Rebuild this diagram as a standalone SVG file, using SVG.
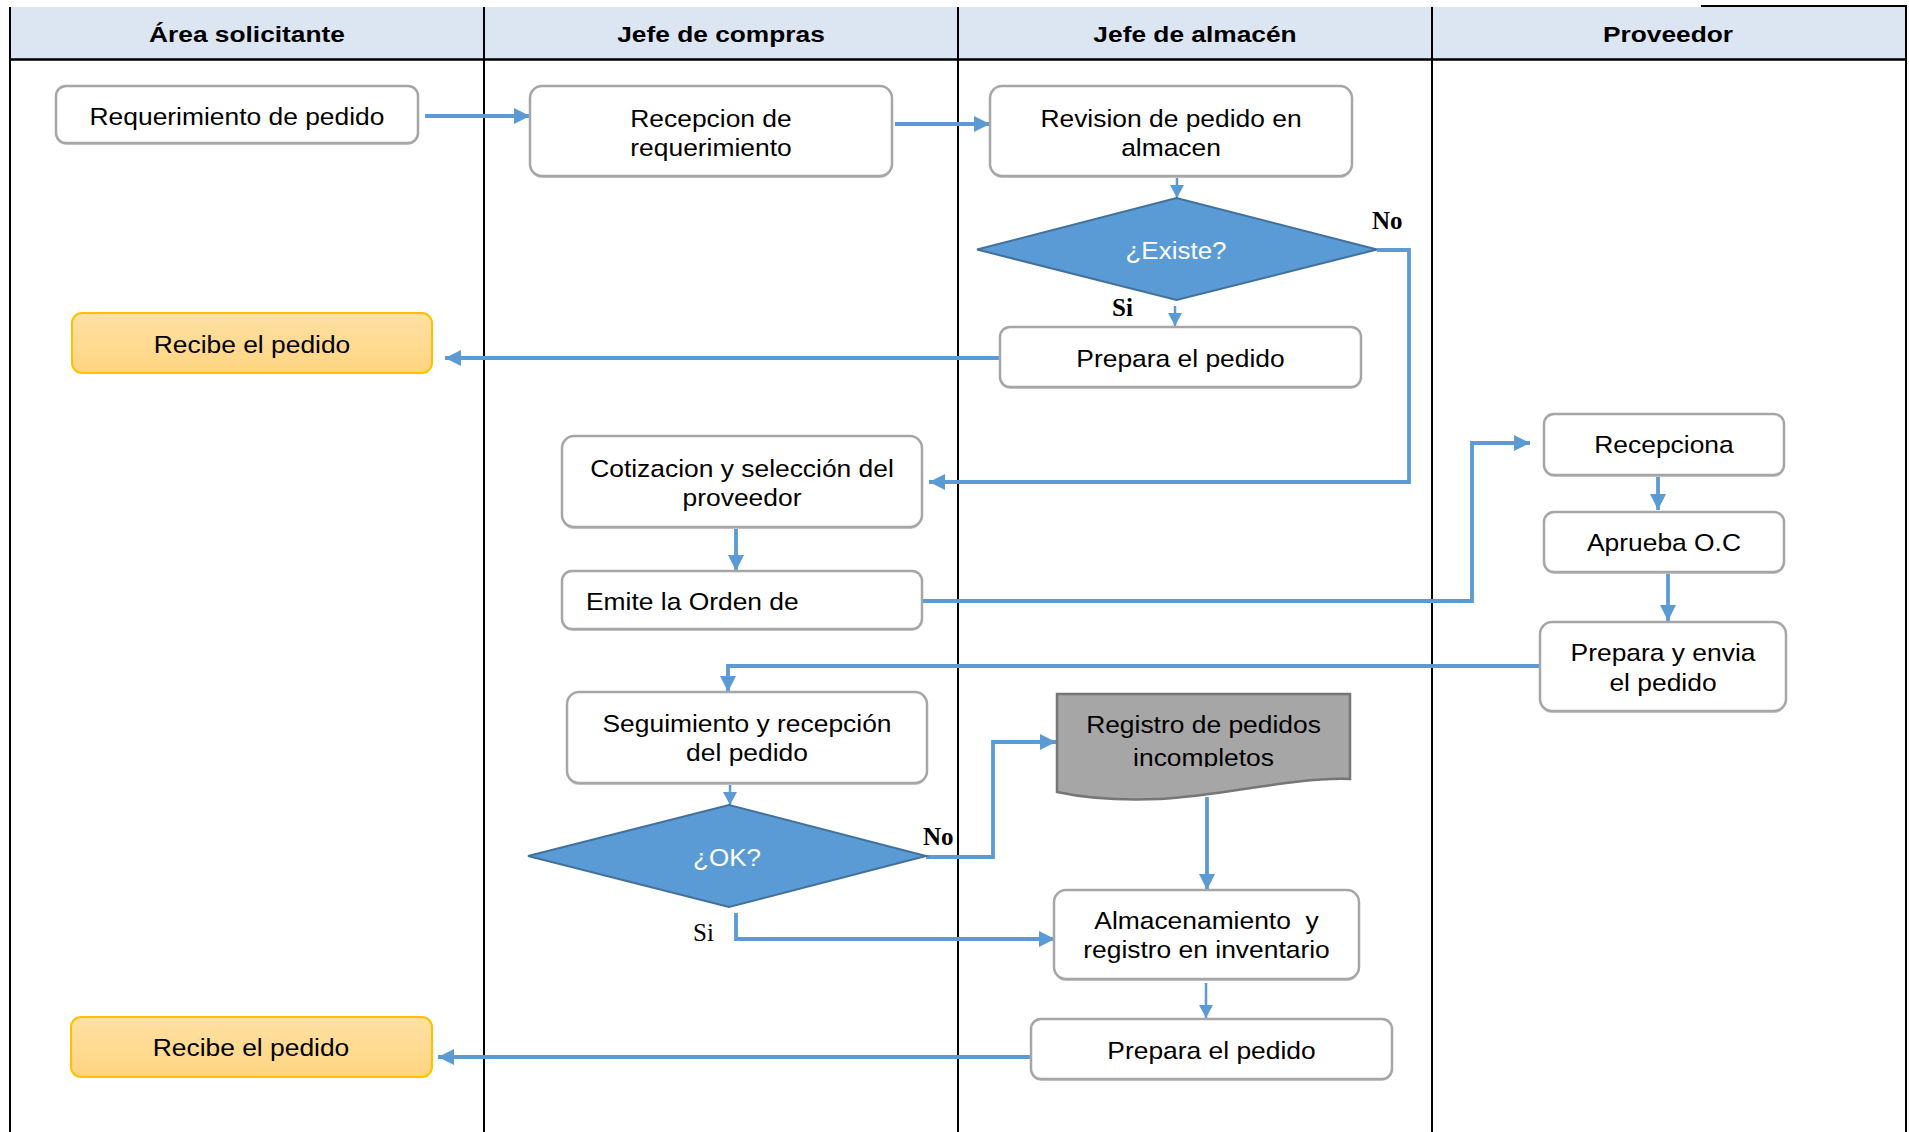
<svg xmlns="http://www.w3.org/2000/svg" width="1909" height="1132" viewBox="0 0 1909 1132">
  <defs>
    <style>
      .lane-head { fill: #DCE6F2; }
      .lane-line { stroke: #000; stroke-width: 2; fill: none; }
      .hdr { font-family: "Liberation Sans", Arial, sans-serif; font-weight: bold; font-size: 22.5px; fill: #000; text-anchor: middle; }
      .box { fill: #fff; stroke: #A6A6A6; stroke-width: 2.5; }
      .shadow { fill: #C8C8C8; }
      .recv { fill: url(#gold); stroke: #FFC000; stroke-width: 2; }
      .dec { fill: #5B9BD5; stroke: #41719C; stroke-width: 2; }
      .doc { fill: #A6A6A6; stroke: #767676; stroke-width: 2.5; }
      .t { font-family: "Liberation Sans", Arial, sans-serif; font-size: 24px; fill: #000; text-anchor: middle; }
      .tw { font-family: "Liberation Sans", Arial, sans-serif; font-size: 23px; fill: #fff; text-anchor: middle; }
      .lbl { font-family: "Liberation Serif", "Times New Roman", serif; font-size: 25px; fill: #000; }
      .flow { stroke: #5B9BD5; stroke-width: 3.8; fill: none; marker-end: url(#arr); }
      .flow-thin { stroke: #5B9BD5; stroke-width: 2.5; fill: none; marker-end: url(#arr-s); }
    </style>
    <linearGradient id="gold" x1="0" y1="0" x2="0" y2="1">
      <stop offset="0" stop-color="#FFE1A4"/>
      <stop offset="1" stop-color="#FFD480"/>
    </linearGradient>
    <marker id="arr" markerUnits="userSpaceOnUse" markerWidth="16" markerHeight="16" viewBox="0 0 16 16" refX="16" refY="8" orient="auto">
      <path d="M0,0 L16,8 L0,16 Z" fill="#5B9BD5"/>
    </marker>
    <marker id="arr-s" markerUnits="userSpaceOnUse" markerWidth="13" markerHeight="14" viewBox="0 0 13 14" refX="13" refY="7" orient="auto">
      <path d="M0,0 L13,7 L0,14 Z" fill="#5B9BD5"/>
    </marker>
    <clipPath id="doc-clip">
      <rect x="1057" y="694" width="293" height="73"/>
    </clipPath>
  </defs>

  <rect width="1909" height="1132" fill="#fff"/>

  <!-- swimlanes -->
  <g id="lanes">
    <rect class="lane-head" x="10" y="7" width="1896" height="52"/>
    <line class="lane-line" x1="10" y1="7" x2="10" y2="1132"/>
    <line class="lane-line" x1="484" y1="7" x2="484" y2="1132"/>
    <line class="lane-line" x1="958" y1="7" x2="958" y2="1132"/>
    <line class="lane-line" x1="1432" y1="7" x2="1432" y2="1132"/>
    <line class="lane-line" x1="1906" y1="5" x2="1906" y2="1132"/>
    <line class="lane-line" x1="1701" y1="6" x2="1907" y2="6"/>
    <line class="lane-line" x1="10" y1="59.5" x2="1906" y2="59.5" style="stroke-width:2.5"/>
    <text class="hdr" transform="translate(247 41.5) scale(1.17 1)">Área solicitante</text>
    <text class="hdr" transform="translate(721 41.5) scale(1.17 1)">Jefe de compras</text>
    <text class="hdr" transform="translate(1195 41.5) scale(1.17 1)">Jefe de almacén</text>
    <text class="hdr" transform="translate(1668 41.5) scale(1.17 1)">Proveedor</text>
  </g>

  <!-- connectors -->
  <g id="connectors">
    <path class="flow" d="M425,116 H530"/>
    <path class="flow" d="M895,124 H990"/>
    <path class="flow-thin" d="M1177,176 V198"/>
    <path class="flow" d="M1377,250 H1409 V482 H929"/>
    <path class="flow-thin" d="M1175,306 V326"/>
    <path class="flow" d="M1000,358 H445"/>
    <path class="flow" d="M736,527 V571"/>
    <path class="flow" d="M922,601 H1472 V443 H1530"/>
    <path class="flow" d="M1658,475 V510"/>
    <path class="flow" d="M1668,572 V621"/>
    <path class="flow" d="M1540,666 H728 V692"/>
    <path class="flow-thin" d="M730,784 V805"/>
    <path class="flow" d="M926,857 H993 V742 H1056"/>
    <path class="flow" d="M736,913 V939 H1055"/>
    <path class="flow" d="M1207,797 V890"/>
    <path class="flow-thin" d="M1206,983 V1018"/>
    <path class="flow" d="M1031,1057 H438"/>
    <text class="lbl" x="1372" y="229" font-weight="bold">No</text>
    <text class="lbl" x="1112" y="316" font-weight="bold">Si</text>
    <text class="lbl" x="923" y="845" font-weight="bold">No</text>
    <text class="lbl" x="693" y="941">Si</text>
  </g>

  <!-- Área solicitante -->
  <g id="n-requerimiento">
    <rect class="shadow" x="56" y="88" width="362" height="57" rx="10"/>
    <rect class="box" x="56" y="86" width="362" height="57" rx="10"/>
    <text class="t" transform="translate(237 124.5) scale(1.1 1)">Requerimiento de pedido</text>
  </g>
  <g id="n-recibe-1">
    <rect class="recv" x="72" y="313" width="360" height="60" rx="10"/>
    <text class="t" transform="translate(252 352.5) scale(1.1 1)">Recibe el pedido</text>
  </g>
  <g id="n-recibe-2">
    <rect class="recv" x="71" y="1017" width="361" height="60" rx="10"/>
    <text class="t" transform="translate(251 1056) scale(1.1 1)">Recibe el pedido</text>
  </g>

  <!-- Jefe de compras -->
  <g id="n-recepcion">
    <rect class="shadow" x="530" y="88" width="362" height="90" rx="12"/>
    <rect class="box" x="530" y="86" width="362" height="90" rx="12"/>
    <text class="t" transform="translate(711 127) scale(1.1 1)"><tspan x="0">Recepcion de</tspan><tspan x="0" dy="29.5">requerimiento</tspan></text>
  </g>
  <g id="n-cotizacion">
    <rect class="shadow" x="562" y="438" width="360" height="91" rx="12"/>
    <rect class="box" x="562" y="436" width="360" height="91" rx="12"/>
    <text class="t" transform="translate(742 477) scale(1.1 1)"><tspan x="0">Cotizacion y selección del</tspan><tspan x="0" dy="29.5">proveedor</tspan></text>
  </g>
  <g id="n-emite">
    <rect class="shadow" x="562" y="573" width="360" height="58" rx="10"/>
    <rect class="box" x="562" y="571" width="360" height="58" rx="10"/>
    <text class="t" transform="translate(586 610) scale(1.1 1)" style="text-anchor:start">Emite la Orden de</text>
  </g>
  <g id="n-seguimiento">
    <rect class="shadow" x="567" y="694" width="360" height="91" rx="12"/>
    <rect class="box" x="567" y="692" width="360" height="91" rx="12"/>
    <text class="t" transform="translate(747 732) scale(1.1 1)"><tspan x="0">Seguimiento y recepción</tspan><tspan x="0" dy="29.5">del pedido</tspan></text>
  </g>
  <g id="n-ok">
    <polygon class="dec" points="528,856 729,805 926,856 729,907"/>
    <text class="tw" transform="translate(727 866) scale(1.13 1)">¿OK?</text>
  </g>

  <!-- Jefe de almacén -->
  <g id="n-revision">
    <rect class="shadow" x="990" y="88" width="362" height="90" rx="12"/>
    <rect class="box" x="990" y="86" width="362" height="90" rx="12"/>
    <text class="t" transform="translate(1171 127) scale(1.1 1)"><tspan x="0">Revision de pedido en</tspan><tspan x="0" dy="29.5">almacen</tspan></text>
  </g>
  <g id="n-existe">
    <polygon class="dec" points="977,249.5 1176.5,198 1377,249.5 1176.5,300"/>
    <text class="tw" transform="translate(1176 259) scale(1.13 1)">¿Existe?</text>
  </g>
  <g id="n-prepara-1">
    <rect class="shadow" x="1000" y="329" width="361" height="60" rx="10"/>
    <rect class="box" x="1000" y="327" width="361" height="60" rx="10"/>
    <text class="t" transform="translate(1180.5 366.5) scale(1.1 1)">Prepara el pedido</text>
  </g>
  <g id="n-registro">
    <path class="doc" d="M1057,694 H1350 V779 C1290,777 1225,796 1160,799 C1110,801 1080,797 1057,792 Z"/>
    <g clip-path="url(#doc-clip)">
      <text class="t" transform="translate(1203.5 733) scale(1.1 1)"><tspan x="0">Registro de pedidos</tspan><tspan x="0" dy="33">incompletos</tspan></text>
    </g>
  </g>
  <g id="n-almacenamiento">
    <rect class="shadow" x="1054" y="892" width="305" height="89" rx="12"/>
    <rect class="box" x="1054" y="890" width="305" height="89" rx="12"/>
    <text class="t" transform="translate(1206.5 929) scale(1.1 1)" style="white-space:pre"><tspan x="0">Almacenamiento  y</tspan><tspan x="0" dy="29.5">registro en inventario</tspan></text>
  </g>
  <g id="n-prepara-2">
    <rect class="shadow" x="1031" y="1021" width="361" height="60" rx="10"/>
    <rect class="box" x="1031" y="1019" width="361" height="60" rx="10"/>
    <text class="t" transform="translate(1211.5 1058.5) scale(1.1 1)">Prepara el pedido</text>
  </g>

  <!-- Proveedor -->
  <g id="n-recepciona">
    <rect class="shadow" x="1544" y="416" width="240" height="61" rx="10"/>
    <rect class="box" x="1544" y="414" width="240" height="61" rx="10"/>
    <text class="t" transform="translate(1664 453) scale(1.1 1)">Recepciona</text>
  </g>
  <g id="n-aprueba">
    <rect class="shadow" x="1544" y="514" width="240" height="60" rx="10"/>
    <rect class="box" x="1544" y="512" width="240" height="60" rx="10"/>
    <text class="t" transform="translate(1664 551) scale(1.1 1)">Aprueba O.C</text>
  </g>
  <g id="n-envia">
    <rect class="shadow" x="1540" y="624" width="246" height="89" rx="12"/>
    <rect class="box" x="1540" y="622" width="246" height="89" rx="12"/>
    <text class="t" transform="translate(1663 661) scale(1.1 1)"><tspan x="0">Prepara y envia</tspan><tspan x="0" dy="30">el pedido</tspan></text>
  </g>
</svg>
